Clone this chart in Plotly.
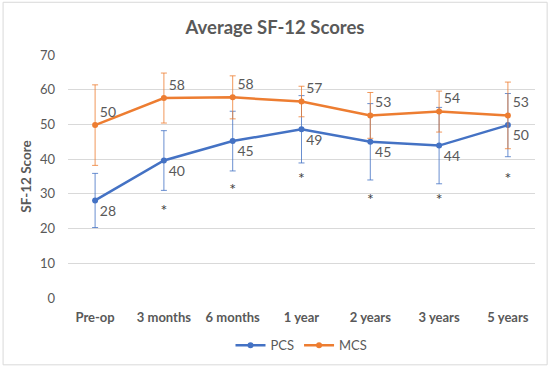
import plotly.graph_objects as go

categories = ["Pre-op", "3 months", "6 months", "1 year", "2 years", "3 years", "5 years"]
pcs = [28.1, 39.6, 45.2, 48.6, 45.0, 43.9, 49.8]
pcs_err = [7.8, 8.6, 8.6, 9.7, 11.0, 11.0, 9.1]
mcs = [49.8, 57.6, 57.8, 56.6, 52.6, 53.7, 52.6]
mcs_err = [11.6, 7.2, 6.2, 4.4, 6.6, 5.9, 9.6]
asterisk_y = [None, 24.7, 30.7, 33.9, 27.9, 27.9, 33.9]
asterisk_text = ["", "*", "*", "*", "*", "*", "*"]

FONT = "Lato"
GRAY = "#595959"
BLUE = "#4472C4"
ORANGE = "#ED7D31"

fig = go.Figure()
fig.add_trace(go.Scatter(
    x=categories, y=pcs, name="PCS", mode="lines+markers+text",
    line=dict(color=BLUE, width=2.5), marker=dict(size=6, color=BLUE),
    error_y=dict(type="data", array=pcs_err, color=BLUE, thickness=0.8, width=3),
    text=[f"{v:.0f}" for v in pcs], textposition="bottom right",
    textfont=dict(family=FONT, size=14, color=GRAY),
))
fig.add_trace(go.Scatter(
    x=categories, y=mcs, name="MCS", mode="lines+markers+text",
    line=dict(color=ORANGE, width=2.5), marker=dict(size=6, color=ORANGE),
    error_y=dict(type="data", array=mcs_err, color=ORANGE, thickness=0.8, width=3),
    text=[f"{v:.0f}" for v in mcs], textposition="top right",
    textfont=dict(family=FONT, size=14, color=GRAY),
))
fig.add_trace(go.Scatter(
    x=categories, y=asterisk_y, mode="text", text=asterisk_text,
    textposition="middle center", showlegend=False, hoverinfo="skip",
    textfont=dict(family=FONT, size=16, color="#404040"),
))

fig.update_layout(
    width=550, height=371,
    margin=dict(l=68, r=15, t=55, b=72),
    paper_bgcolor="white", plot_bgcolor="white",
    font=dict(family=FONT, color=GRAY),
    title=dict(text="<b>Average SF-12 Scores</b>", x=0.5, xanchor="center",
               y=1 - 28 / 371, yanchor="middle",
               font=dict(family=FONT, size=18.5, color=GRAY)),
    xaxis=dict(showgrid=False, showline=False, zeroline=False,
               tickfont=dict(family=FONT, size=13, color=GRAY, weight="bold"),
               ticklabelstandoff=10, fixedrange=True),
    yaxis=dict(range=[0, 70], dtick=10, showgrid=True, gridcolor="#D9D9D9",
               gridwidth=1, zeroline=False, showline=False,
               tickfont=dict(family=FONT, size=13, color=GRAY),
               ticklabelstandoff=12,
               title=dict(text="<b>SF-12 Score</b>", standoff=5,
                          font=dict(family=FONT, size=13.5, color=GRAY))),
    legend=dict(orientation="h", x=0.5, xanchor="center", y=-0.19, yanchor="middle",
                font=dict(family=FONT, size=13, color=GRAY), itemwidth=30),
    shapes=[dict(type="rect", xref="paper", yref="paper",
                 x0=-0.139, x1=1.026, y0=-0.275, y1=1.217,
                 line=dict(color="#D9D9D9", width=1), layer="below")],
)

fig.write_html("out.html", config={"displayModeBar": False},
               post_script="document.body.style.margin='0';document.body.style.overflow='hidden';")
